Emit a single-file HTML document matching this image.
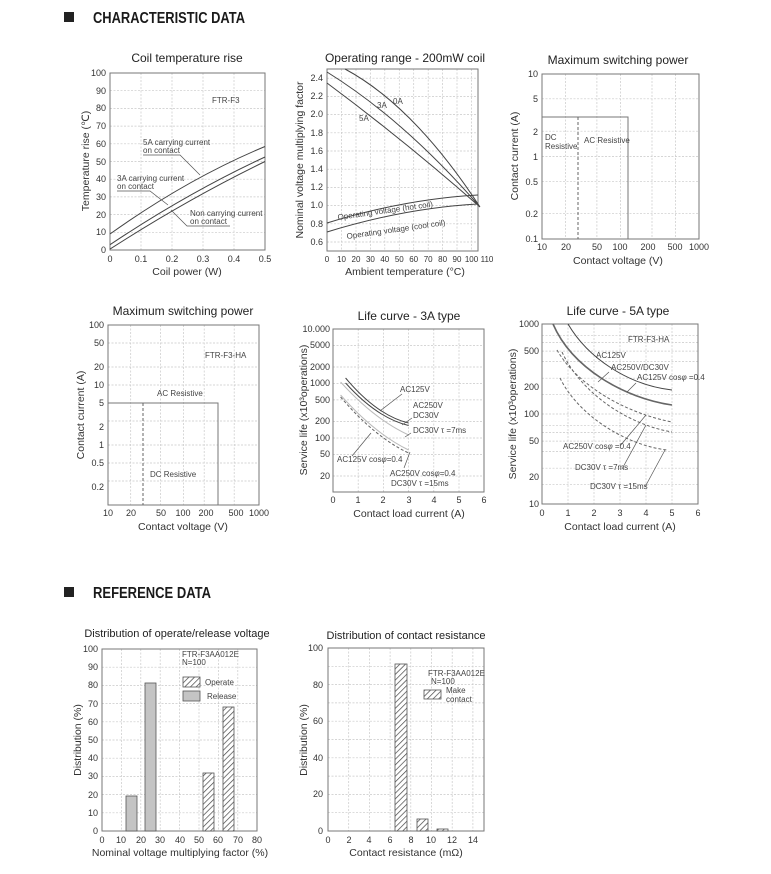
<!DOCTYPE html>
<html><head><meta charset="utf-8"><style>
html,body{margin:0;padding:0;background:#fff}
svg{display:block}
text{font-family:"Liberation Sans",sans-serif;fill:#333}
.t{font-size:12px;fill:#222}
.k{font-size:9px;fill:#444}
.k2{font-size:8px;fill:#444}
.a{font-size:10.5px;fill:#333}
.s{font-size:8px;fill:#444}
.g{stroke:#c8c8c8;stroke-width:.7;stroke-dasharray:2 1.5;fill:none}
.b{stroke:#777;stroke-width:1;fill:none}
.c{stroke:#444;stroke-width:1;fill:none}
.d{stroke:#666;stroke-width:1;fill:none;stroke-dasharray:3 2}
.l{stroke:#555;stroke-width:.7;fill:none}
</style></head><body>
<svg width="771" height="874" viewBox="0 0 771 874" xmlns="http://www.w3.org/2000/svg">
<defs><pattern id="h" width="4" height="4" patternUnits="userSpaceOnUse" patternTransform="rotate(45)"><rect width="4" height="4" fill="#fff"/><line x1="0" y1="0" x2="0" y2="4" stroke="#444" stroke-width="1.4"/></pattern></defs>

<rect x="64" y="12" width="10" height="10" fill="#222"/>
<text x="93" y="23" style="font-size:16px;font-weight:bold;fill:#1a1a1a" textLength="152" lengthAdjust="spacingAndGlyphs">CHARACTERISTIC DATA</text>
<rect x="64" y="587" width="10" height="10" fill="#222"/>
<text x="93" y="598" style="font-size:16px;font-weight:bold;fill:#1a1a1a" textLength="118" lengthAdjust="spacingAndGlyphs">REFERENCE DATA</text>

<!-- Chart 1 -->
<text class="t" x="187" y="62" text-anchor="middle">Coil temperature rise</text>
<g class="g"><path d="M141 73V250M172 73V250M203 73V250M234 73V250M110 90.7H265M110 108.4H265M110 126.1H265M110 143.8H265M110 161.5H265M110 179.2H265M110 196.9H265M110 214.6H265M110 232.3H265"/></g>
<rect class="b" x="110" y="73" width="155" height="177"/>
<g class="k" text-anchor="end"><text x="106" y="76">100</text><text x="106" y="94">90</text><text x="106" y="111">80</text><text x="106" y="129">70</text><text x="106" y="147">60</text><text x="106" y="165">50</text><text x="106" y="182">40</text><text x="106" y="200">30</text><text x="106" y="218">20</text><text x="106" y="235">10</text><text x="106" y="253">0</text></g>
<g class="k" text-anchor="middle"><text x="110" y="262">0</text><text x="141" y="262">0.1</text><text x="172" y="262">0.2</text><text x="203" y="262">0.3</text><text x="234" y="262">0.4</text><text x="265" y="262">0.5</text></g>
<text class="a" x="187" y="275" text-anchor="middle">Coil power (W)</text>
<text class="a" transform="translate(89,161) rotate(-90)" text-anchor="middle">Temperature rise (℃)</text>
<path class="c" d="M110 234Q187.5 178.75 265 146.5M110 244.7Q187.5 192.95 265 157M110 249.1Q187.5 199.1 265 161.5"/>
<text class="s" x="212" y="103">FTR-F3</text>
<text class="s" x="143" y="145">5A carrying current</text><text class="s" x="143" y="153">on contact</text>
<path class="l" d="M143 155H180L200 175"/>
<text class="s" x="117" y="181">3A carrying current</text><text class="s" x="117" y="189">on contact</text>
<path class="l" d="M117 191H150L168 205"/>
<text class="s" x="190" y="216">Non carrying current</text><text class="s" x="190" y="224">on contact</text>
<path class="l" d="M230 226H187L171 210"/>

<!-- Chart 2 -->
<text class="t" x="405" y="62" text-anchor="middle">Operating range - 200mW coil</text>
<g class="g"><path d="M341.5 69V251M356 69V251M370.4 69V251M384.8 69V251M399.3 69V251M413.7 69V251M428.2 69V251M442.6 69V251M457 69V251M471.5 69V251M327 78.2H478M327 96.4H478M327 114.6H478M327 132.8H478M327 151H478M327 169.2H478M327 187.4H478M327 205.6H478M327 223.8H478M327 242H478"/></g>
<rect class="b" x="327" y="69" width="151" height="182"/>
<g class="k" text-anchor="end"><text x="323" y="81">2.4</text><text x="323" y="99">2.2</text><text x="323" y="117">2.0</text><text x="323" y="136">1.8</text><text x="323" y="154">1.6</text><text x="323" y="172">1.4</text><text x="323" y="190">1.2</text><text x="323" y="208">1.0</text><text x="323" y="227">0.8</text><text x="323" y="245">0.6</text></g>
<g class="k2" text-anchor="middle"><text x="327" y="262">0</text><text x="341.5" y="262">10</text><text x="356" y="262">20</text><text x="370.4" y="262">30</text><text x="384.8" y="262">40</text><text x="399.3" y="262">50</text><text x="413.7" y="262">60</text><text x="428.2" y="262">70</text><text x="442.6" y="262">80</text><text x="457" y="262">90</text><text x="471.5" y="262">100</text><text x="487" y="262">110</text></g>
<text class="a" x="405" y="275" text-anchor="middle">Ambient temperature (°C)</text>
<text class="a" transform="translate(303,160) rotate(-90)" text-anchor="middle">Nominal voltage multiplying factor</text>
<path class="c" d="M345 69Q414 106 480 207M327 72Q405 120.5 480 207M327 83Q405 141 480 207M327 223Q405 199 478 195M327 232Q405 208 478 204"/>
<text class="s" x="393" y="104">0A</text><text class="s" x="377" y="108">3A</text><text class="s" x="359" y="121">5A</text>
<text class="s" transform="translate(338,220) rotate(-8)">Operating voltage (hot coil)</text>
<text class="s" transform="translate(347,239) rotate(-8)">Operating voltage (cool coil)</text>

<!-- Chart 3 -->
<text class="t" x="618" y="64" text-anchor="middle">Maximum switching power</text>
<g class="g"><path d="M565.6 74V239M596.9 74V239M620.5 74V239M652 74V239M675.6 74V239M542 98.8H699M542 131.2H699M542 156.5H699M542 181.3H699M542 213.7H699"/></g>
<rect class="b" x="542" y="74" width="157" height="165"/>
<g class="k" text-anchor="end"><text x="538" y="77">10</text><text x="538" y="102">5</text><text x="538" y="135">2</text><text x="538" y="160">1</text><text x="538" y="185">0.5</text><text x="538" y="217">0.2</text><text x="538" y="242">0.1</text></g>
<g class="k" text-anchor="middle"><text x="542" y="250">10</text><text x="566" y="250">20</text><text x="597" y="250">50</text><text x="620" y="250">100</text><text x="648" y="250">200</text><text x="675" y="250">500</text><text x="699" y="250">1000</text></g>
<text class="a" x="618" y="264" text-anchor="middle">Contact voltage (V)</text>
<text class="a" transform="translate(518,156) rotate(-90)" text-anchor="middle">Contact current (A)</text>
<path class="c" style="stroke:#777" d="M542 117H628V239"/><path class="d" d="M578 117V239"/>
<text class="s" x="545" y="140">DC</text><text class="s" x="545" y="149">Resistive</text>
<text class="s" x="584" y="143">AC Resistive</text>

<!-- Chart 4 -->
<text class="t" x="183" y="315" text-anchor="middle">Maximum switching power</text>
<g class="g"><path d="M130.7 325V505M160.6 325V505M183.5 325V505M204.2 325V505M234.2 325V505M108 343H259M108 367H259M108 385H259M108 421H259M108 445H259M108 463H259M108 481H259"/></g>
<rect class="b" x="108" y="325" width="151" height="180"/>
<g class="k" text-anchor="end"><text x="104" y="328">100</text><text x="104" y="346">50</text><text x="104" y="370">20</text><text x="104" y="388">10</text><text x="104" y="406">5</text><text x="104" y="430">2</text><text x="104" y="448">1</text><text x="104" y="466">0.5</text><text x="104" y="490">0.2</text></g>
<g class="k" text-anchor="middle"><text x="108" y="516">10</text><text x="131" y="516">20</text><text x="161" y="516">50</text><text x="183" y="516">100</text><text x="206" y="516">200</text><text x="236" y="516">500</text><text x="259" y="516">1000</text></g>
<text class="a" x="183" y="530" text-anchor="middle">Contact voltage (V)</text>
<text class="a" transform="translate(84,415) rotate(-90)" text-anchor="middle">Contact current (A)</text>
<path class="c" style="stroke:#777" d="M108 403H218V505"/><path class="d" d="M143 403V505"/>
<text class="s" x="205" y="358">FTR-F3-HA</text>
<text class="s" x="157" y="396">AC Resistive</text>
<text class="s" x="150" y="477">DC Resistive</text>

<!-- Chart 5 -->
<text class="t" x="409" y="320" text-anchor="middle">Life curve - 3A type</text>
<g class="g"><path d="M358.2 329V492M383.4 329V492M408.6 329V492M433.8 329V492M459 329V492M333 345.4H484M333 367H484M333 383.5H484M333 399.9H484M333 421.5H484M333 438H484M333 454.4H484M333 476H484"/></g>
<rect class="b" x="333" y="329" width="151" height="163"/>
<g class="k" text-anchor="end"><text x="330" y="332">10.000</text><text x="330" y="348">5000</text><text x="330" y="370">2000</text><text x="330" y="386">1000</text><text x="330" y="403">500</text><text x="330" y="424">200</text><text x="330" y="441">100</text><text x="330" y="457">50</text><text x="330" y="479">20</text></g>
<g class="k" text-anchor="middle"><text x="333" y="503">0</text><text x="358" y="503">1</text><text x="383" y="503">2</text><text x="409" y="503">3</text><text x="434" y="503">4</text><text x="459" y="503">5</text><text x="484" y="503">6</text></g>
<text class="a" x="409" y="517" text-anchor="middle">Contact load current (A)</text>
<text class="a" transform="translate(307,410) rotate(-90)" text-anchor="middle">Service life (x10³operations)</text>
<path class="c" d="M345.6 378Q377 415.5 408.6 423M345.6 383Q377 418 408.6 425.5"/>
<path style="stroke:#bbb;fill:none;stroke-width:1" d="M340.6 382Q374.6 419.5 408.6 435M340.6 395Q374.6 433.5 408.6 450"/>
<path class="d" d="M340.6 397Q374.6 437 408.6 453"/>
<text class="s" x="400" y="392">AC125V</text><path class="l" d="M402 394L380 411"/>
<text class="s" x="413" y="408">AC250V</text><text class="s" x="413" y="418">DC30V</text><path class="l" d="M412 418L402 425"/>
<text class="s" x="413" y="433">DC30V τ =7ms</text><path class="l" d="M411 433L405 437"/>
<text class="s" x="337" y="462">AC125V cos<tspan font-style="italic">φ</tspan>=0.4</text><path class="l" d="M352 456L371 433"/>
<text class="s" x="390" y="476">AC250V cos<tspan font-style="italic">φ</tspan>=0.4</text><text class="s" x="391" y="486">DC30V τ =15ms</text><path class="l" d="M404 468L410 452"/>

<!-- Chart 6 -->
<text class="t" x="618" y="315" text-anchor="middle">Life curve - 5A type</text>
<g class="g"><path d="M568 324V504M594 324V504M620 324V504M646 324V504M672 324V504M542 335.3H698M542 342.5H698M542 351.1H698M542 361.5H698M542 378.2H698M542 394.7H698M542 414H698M542 425.3H698M542 432.5H698M542 441.1H698M542 451.5H698M542 468.2H698M542 484.7H698"/></g>
<rect class="b" x="542" y="324" width="156" height="180"/>
<g class="k" text-anchor="end"><text x="539" y="327">1000</text><text x="539" y="354">500</text><text x="539" y="390">200</text><text x="539" y="417">100</text><text x="539" y="444">50</text><text x="539" y="480">20</text><text x="539" y="507">10</text></g>
<g class="k" text-anchor="middle"><text x="542" y="516">0</text><text x="568" y="516">1</text><text x="594" y="516">2</text><text x="620" y="516">3</text><text x="646" y="516">4</text><text x="672" y="516">5</text><text x="698" y="516">6</text></g>
<text class="a" x="620" y="530" text-anchor="middle">Contact load current (A)</text>
<text class="a" transform="translate(516,414) rotate(-90)" text-anchor="middle">Service life (x10³operations)</text>
<path class="c" d="M568 324C588 358 628 385 672 390"/>
<path class="c" style="stroke-width:1.6;stroke:#666" d="M553 324C572 368 624 398 672 405"/>
<path class="d" d="M557 350C577 385 625 413 672 422M562 352C582 395 630 425 672 432M560 378C578 415 625 445 667 450"/>
<text class="s" x="628" y="342">FTR-F3-HA</text>
<text class="s" x="596" y="358">AC125V</text>
<text class="s" x="611" y="370">AC250V/DC30V</text><path class="l" d="M609 372L598 382"/>
<text class="s" x="637" y="380">AC125V cos<tspan font-style="italic">φ</tspan> =0.4</text><path class="l" d="M636 383L627 392"/>
<text class="s" x="563" y="449">AC250V cos<tspan font-style="italic">φ</tspan> =0.4</text><path class="l" d="M620 446L646 415"/>
<text class="s" x="575" y="470">DC30V τ =7ms</text><path class="l" d="M622 469L646 425"/>
<text class="s" x="590" y="489">DC30V τ =15ms</text><path class="l" d="M645 487L665 450"/>

<!-- Chart 7 -->
<text class="t" x="177" y="637" text-anchor="middle" style="font-size:11px">Distribution of operate/release voltage</text>
<g class="g"><path d="M121.4 649V831M140.8 649V831M160.2 649V831M179.6 649V831M199 649V831M218.4 649V831M237.8 649V831M102 667.2H257M102 685.4H257M102 703.6H257M102 721.8H257M102 740H257M102 758.2H257M102 776.4H257M102 794.6H257M102 812.8H257"/></g>
<rect class="b" x="102" y="649" width="155" height="182"/>
<g class="k" text-anchor="end"><text x="98" y="652">100</text><text x="98" y="670">90</text><text x="98" y="688">80</text><text x="98" y="707">70</text><text x="98" y="725">60</text><text x="98" y="743">50</text><text x="98" y="761">40</text><text x="98" y="779">30</text><text x="98" y="798">20</text><text x="98" y="816">10</text><text x="98" y="834">0</text></g>
<g class="k" text-anchor="middle"><text x="102" y="843">0</text><text x="121" y="843">10</text><text x="141" y="843">20</text><text x="160" y="843">30</text><text x="180" y="843">40</text><text x="199" y="843">50</text><text x="218" y="843">60</text><text x="238" y="843">70</text><text x="257" y="843">80</text></g>
<text class="a" x="180" y="856" text-anchor="middle">Nominal voltage multiplying factor (%)</text>
<text class="a" transform="translate(81,740) rotate(-90)" text-anchor="middle">Distribution (%)</text>
<rect x="126" y="796" width="11" height="35" fill="#c4c4c4" stroke="#555" stroke-width=".8"/>
<rect x="145" y="683" width="11" height="148" fill="#c4c4c4" stroke="#555" stroke-width=".8"/>
<rect x="203" y="773" width="11" height="58" fill="url(#h)" stroke="#555" stroke-width=".8"/>
<rect x="223" y="707" width="11" height="124" fill="url(#h)" stroke="#555" stroke-width=".8"/>
<text class="s" x="182" y="657">FTR-F3AA012E</text><text class="s" x="182" y="665">N=100</text>
<rect x="183" y="677" width="17" height="10" fill="url(#h)" stroke="#555" stroke-width=".8"/><text class="s" x="205" y="685">Operate</text>
<rect x="183" y="691" width="17" height="10" fill="#c4c4c4" stroke="#555" stroke-width=".8"/><text class="s" x="207" y="699">Release</text>

<!-- Chart 8 -->
<text class="t" x="406" y="639" text-anchor="middle" style="font-size:11px">Distribution of contact resistance</text>
<g class="g"><path d="M348.7 648V831M369.4 648V831M390.1 648V831M410.8 648V831M431.5 648V831M452.2 648V831M472.9 648V831M328 666.3H484M328 684.6H484M328 702.9H484M328 721.2H484M328 739.5H484M328 757.8H484M328 776.1H484M328 794.4H484M328 812.7H484"/></g>
<rect class="b" x="328" y="648" width="156" height="183"/>
<g class="k" text-anchor="end"><text x="323" y="651">100</text><text x="323" y="688">80</text><text x="323" y="724">60</text><text x="323" y="761">40</text><text x="323" y="797">20</text><text x="323" y="834">0</text></g>
<g class="k" text-anchor="middle"><text x="328" y="843">0</text><text x="349" y="843">2</text><text x="369" y="843">4</text><text x="390" y="843">6</text><text x="411" y="843">8</text><text x="431" y="843">10</text><text x="452" y="843">12</text><text x="473" y="843">14</text></g>
<text class="a" x="406" y="856" text-anchor="middle">Contact resistance (mΩ)</text>
<text class="a" transform="translate(307,740) rotate(-90)" text-anchor="middle">Distribution (%)</text>
<rect x="395" y="664" width="12" height="167" fill="url(#h)" stroke="#555" stroke-width=".8"/>
<rect x="417" y="819" width="11" height="12" fill="url(#h)" stroke="#555" stroke-width=".8"/>
<rect x="437" y="829" width="11" height="2" fill="url(#h)" stroke="#555" stroke-width=".8"/>
<text class="s" x="428" y="676">FTR-F3AA012E</text><text class="s" x="431" y="684">N=100</text>
<rect x="424" y="690" width="17" height="9" fill="url(#h)" stroke="#555" stroke-width=".8"/><text class="s" x="446" y="693">Make</text><text class="s" x="446" y="702">contact</text>
</svg>
</body></html>
